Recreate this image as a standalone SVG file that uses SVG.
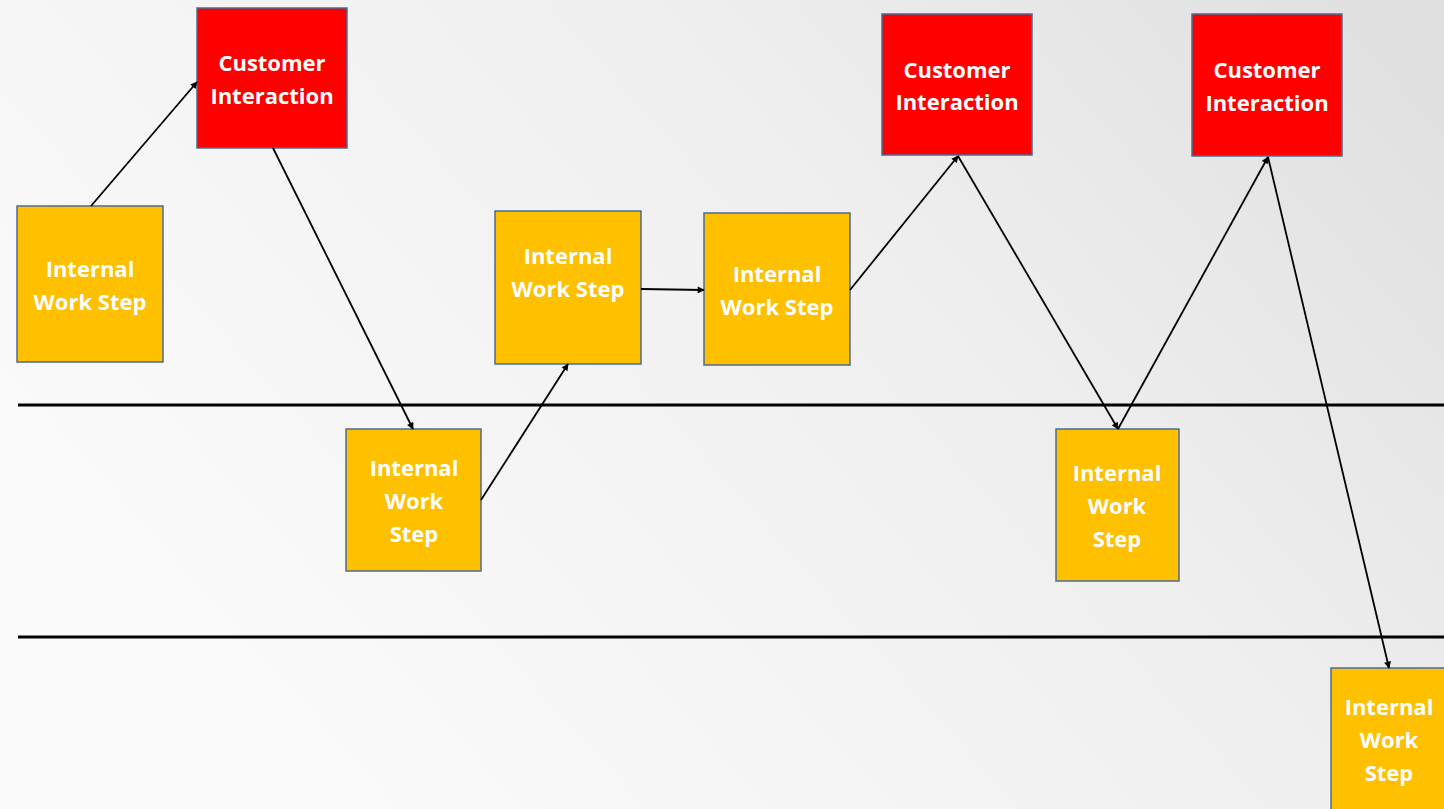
<svg xmlns="http://www.w3.org/2000/svg" width="1444" height="809" viewBox="0 0 1444 809">
<defs>
<linearGradient id="bg" x1="0" y1="0.6" x2="1" y2="0.1">
<stop offset="0" stop-color="#fbfbfb"/>
<stop offset="0.6" stop-color="#efefef"/>
<stop offset="1" stop-color="#e0e0e0"/>
</linearGradient>
<marker id="ah" viewBox="0 0 10 10" refX="9" refY="5" markerWidth="8" markerHeight="7" orient="auto" markerUnits="userSpaceOnUse">
<path d="M0,0 L10,5 L0,10 z" fill="#000"/>
</marker>
<style>
.iw{fill:#FFC000;stroke:#4a6c94;stroke-width:1.5}
.ci{fill:#FF0000;stroke:#4a6c94;stroke-width:1.5}
.t{font-family:"Open Sans","Noto Sans",sans-serif;font-weight:bold;font-size:22px;fill:#fff;text-anchor:middle}
.c{stroke:#000;stroke-width:1.8;fill:none;marker-end:url(#ah)}
.sep{stroke:#000;stroke-width:3}
</style>
</defs>
<rect x="0" y="0" width="1444" height="809" fill="url(#bg)"/>
<g id="lanes">
<line class="sep" x1="18" y1="405" x2="1444" y2="405"/>
<line class="sep" x1="18" y1="637" x2="1444" y2="637"/>
</g>
<g id="n1"><rect class="iw" x="17" y="206" width="146" height="156"/><text class="t" x="90" y="277">Internal</text><text class="t" x="90" y="310">Work Step</text></g>
<g id="n2"><rect class="ci" x="197" y="8" width="150" height="140"/><text class="t" x="272" y="71">Customer</text><text class="t" x="272" y="104">Interaction</text></g>
<g id="n3"><rect class="iw" x="346" y="429" width="135" height="142"/><text class="t" x="414" y="476">Internal</text><text class="t" x="414" y="509">Work</text><text class="t" x="414" y="542">Step</text></g>
<g id="n4"><rect class="iw" x="495" y="211" width="146" height="153"/><text class="t" x="568" y="264">Internal</text><text class="t" x="568" y="297">Work Step</text></g>
<g id="n5"><rect class="iw" x="704" y="213" width="146" height="152"/><text class="t" x="777" y="282">Internal</text><text class="t" x="777" y="315">Work Step</text></g>
<g id="n6"><rect class="ci" x="882" y="14" width="150" height="141"/><text class="t" x="957" y="78">Customer</text><text class="t" x="957" y="110">Interaction</text></g>
<g id="n7"><rect class="iw" x="1056" y="429" width="123" height="152"/><text class="t" x="1117" y="481">Internal</text><text class="t" x="1117" y="514">Work</text><text class="t" x="1117" y="547">Step</text></g>
<g id="n8"><rect class="ci" x="1192" y="14" width="150" height="142"/><text class="t" x="1267" y="78">Customer</text><text class="t" x="1267" y="111">Interaction</text></g>
<g id="n9"><rect class="iw" x="1331" y="668" width="120" height="150"/><text class="t" x="1389" y="715">Internal</text><text class="t" x="1389" y="748">Work</text><text class="t" x="1389" y="781">Step</text></g>
<g id="connectors">
<line class="c" x1="91" y1="206" x2="197" y2="82"/>
<line class="c" x1="273" y1="148" x2="413" y2="429"/>
<line class="c" x1="481" y1="500" x2="568" y2="364"/>
<line class="c" x1="641" y1="289" x2="704" y2="290"/>
<line class="c" x1="850" y1="290" x2="958" y2="156"/>
<line class="c" x1="958" y1="156" x2="1118" y2="429"/>
<line class="c" x1="1118" y1="429" x2="1268" y2="157"/>
<line class="c" x1="1268" y1="157" x2="1389" y2="668"/>
</g>
</svg>
